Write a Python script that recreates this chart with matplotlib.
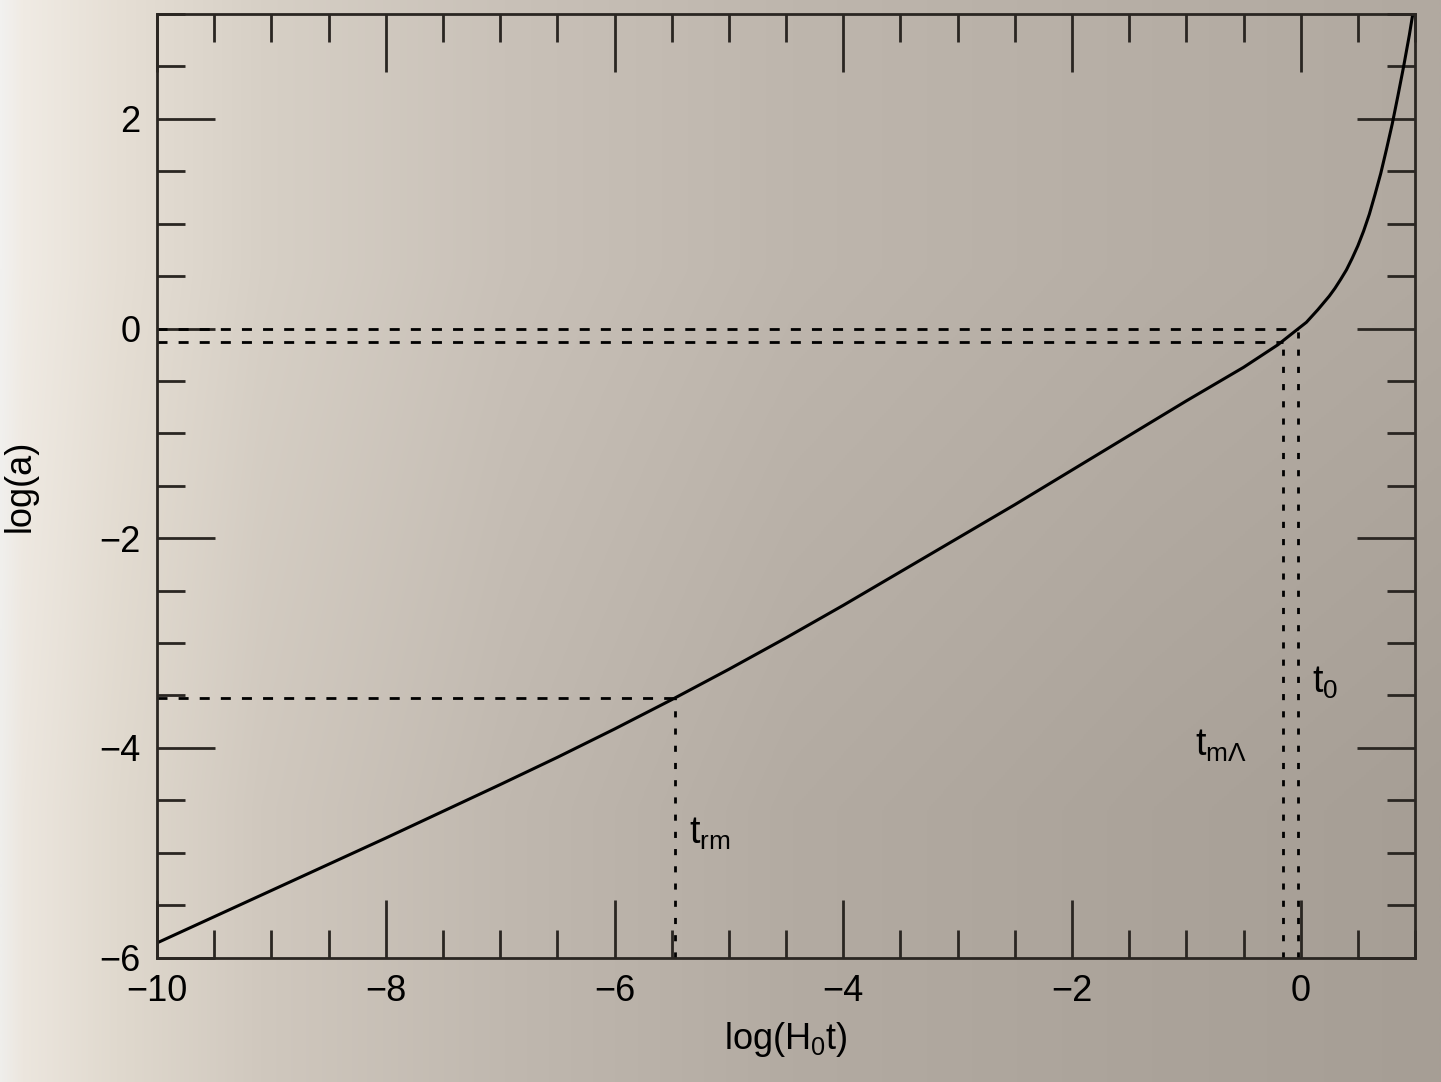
import numpy as np
import matplotlib
matplotlib.use("Agg")
import matplotlib.pyplot as plt
from matplotlib.colors import to_rgb
from matplotlib.ticker import MultipleLocator

plt.rcParams['font.family'] = ['Liberation Sans', 'DejaVu Sans']
plt.rcParams['mathtext.default'] = 'regular'

# scale factor curve
log_t = [-10, -9, -8, -7, -6.5, -6, -5.5, -5, -4.5, -4, -3.5, -3, -2.5, -2,
         -1.5, -1, -0.5, -0.2, -0.02, 0.05, 0.1, 0.15, 0.2, 0.25, 0.3, 0.35,
         0.4, 0.45, 0.5, 0.55, 0.6, 0.65, 0.7, 0.75, 0.8, 0.85, 0.9, 0.95, 0.98]
log_a = [-5.86, -5.36, -4.86, -4.35, -4.09, -3.82, -3.54, -3.25, -2.95, -2.64,
         -2.32, -2.00, -1.68, -1.35, -1.02, -0.69, -0.37, -0.155, 0.0, 0.06,
         0.12, 0.18, 0.245, 0.31, 0.385, 0.47, 0.56, 0.67, 0.79, 0.93, 1.09,
         1.28, 1.48, 1.71, 1.95, 2.22, 2.50, 2.80, 3.0]

# marked epochs: (log t, log a)
t_rm = (-5.47, -3.52)
t_mL = (-0.157, -0.125)
t_0 = (-0.02, 0.0)

x_min, x_max = -10, 1.0
y_min, y_max = -6, 3

fig = plt.figure(figsize=(14.41, 10.82), dpi=100)

# paper background (photo lighting)
stops = [0.0, 0.015, 0.08, 0.18, 0.35, 0.55, 0.8, 1.0]
top_c = ['#f2f1ef', '#f0ebe4', '#e6dfd5', '#d7d0c6', '#c9c1b8', '#beb6ad', '#b6aea5', '#b1a9a0']
bot_c = ['#efeeeb', '#ece6de', '#e0d9ce', '#d0c8be', '#c0b8af', '#b3aba2', '#aba39a', '#a69e95']
xs = np.linspace(0, 1, 400)
rows = []
for cols in (top_c, bot_c):
    rgb = np.array([to_rgb(c) for c in cols])
    rows.append(np.stack([np.interp(xs, stops, rgb[:, k]) for k in range(3)], axis=1))
bg = fig.add_axes([0, 0, 1, 1], zorder=-10)
bg.imshow(np.array(rows), aspect='auto', interpolation='bilinear', extent=[0, 1, 0, 1])
bg.axis('off')

ax = fig.add_axes([0.109, 0.115, 0.873, 0.872])
ax.set_facecolor('none')

ax.plot(log_t, log_a, color='black', lw=2.2, solid_joinstyle='round')

hdash = dict(color='black', lw=2.0, dashes=(3.6, 4))
vdash = dict(color='black', lw=2.0, dashes=(2.2, 4))
for tx, ay in (t_rm, t_mL, t_0):
    ax.plot([x_min, tx], [ay, ay], **hdash)
    ax.plot([tx, tx], [y_min, ay], **vdash)

ax.text(-5.35, -4.82, 't$_{rm}$', fontsize=27, va='center', ha='left')
ax.text(-0.92, -3.98, 't$_{m\u039b}$', fontsize=27, va='center', ha='left')
ax.text(0.10, -3.38, 't$_0$', fontsize=27, va='center', ha='left')

ax.set_xlim(x_min, x_max)
ax.set_ylim(y_min, y_max)
ax.xaxis.set_major_locator(MultipleLocator(2))
ax.xaxis.set_minor_locator(MultipleLocator(0.5))
ax.yaxis.set_major_locator(MultipleLocator(2))
ax.yaxis.set_minor_locator(MultipleLocator(0.5))
ax.tick_params(which='both', direction='in', top=True, right=True,
               width=2, labelsize=26, pad=12, color='#2a2622')
ax.tick_params(which='major', length=42)
ax.tick_params(which='minor', length=20)
for s in ax.spines.values():
    s.set_linewidth(2)
    s.set_color('#2a2622')

ax.set_xlabel('log(H$_0$t)', fontsize=26, labelpad=8)
ax.set_ylabel('log(a)', fontsize=26, labelpad=44)

fig.savefig('out.png', dpi=100)
